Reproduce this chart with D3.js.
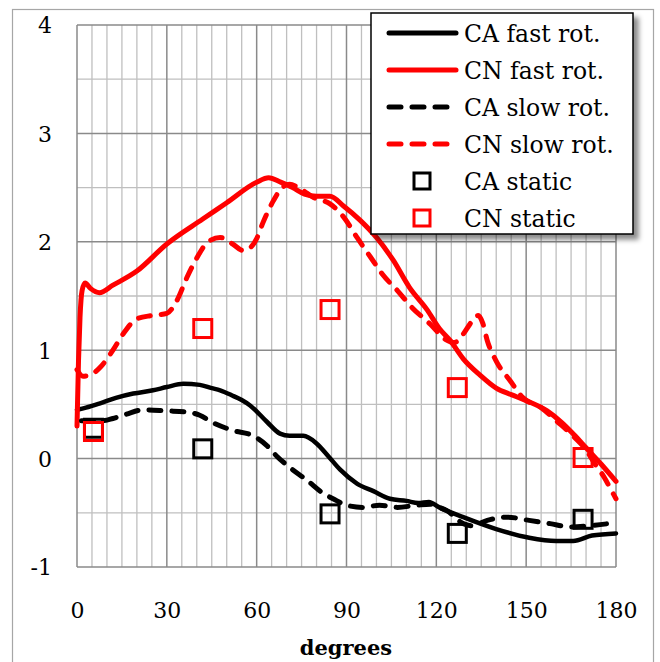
<!DOCTYPE html>
<html>
<head>
<meta charset="utf-8">
<script src="https://cdn.jsdelivr.net/npm/d3@7"></script>
<style>
  html, body { margin: 0; padding: 0; background: #fff; }
  svg { display: block; }
  text { font-family: "DejaVu Serif", serif; fill: #000; }
</style>
</head>
<body>
<svg id="chart" width="660" height="662"></svg>
<script>
// Force coefficients versus rotation angle (degrees)
const caFastDeg = [0, 3, 7.7, 13, 18.8, 25.4, 30, 35.5, 41, 45, 47.8, 52, 55, 57.8, 63.4, 67.8, 71, 75.6, 80, 84, 87.8, 93.5, 99, 104.5, 110, 114, 117.5, 121, 129, 140, 151, 160, 165.7, 172, 180];
const caFast    = [0.45, 0.47, 0.51, 0.56, 0.60, 0.63, 0.66, 0.69, 0.68, 0.65, 0.63, 0.58, 0.54, 0.49, 0.34, 0.23, 0.21, 0.21, 0.14, 0.02, -0.10, -0.23, -0.30, -0.37, -0.39, -0.41, -0.40, -0.45, -0.54, -0.65, -0.73, -0.76, -0.76, -0.71, -0.69];

const cnFastDeg = [0, 0.5, 1, 1.7, 2.7, 4.5, 7.5, 12, 20, 30, 42, 50, 60, 64, 68, 72, 76, 80, 84.5, 89, 94.5, 100, 105.6, 111, 117, 121, 124.6, 129, 134.6, 140, 145, 150, 157, 162, 166, 170, 175, 180];
const cnFast    = [0.30, 0.90, 1.30, 1.55, 1.62, 1.57, 1.53, 1.60, 1.73, 1.98, 2.21, 2.36, 2.55, 2.59, 2.55, 2.50, 2.44, 2.42, 2.42, 2.33, 2.20, 2.04, 1.83, 1.58, 1.37, 1.20, 1.09, 0.92, 0.77, 0.65, 0.59, 0.535, 0.44, 0.33, 0.22, 0.10, -0.05, -0.21];

const caSlowDeg = [1.5, 8.8, 12, 16.5, 22, 30, 36.7, 41, 45.5, 52, 58.8, 63.4, 66.8, 71, 76.8, 82.2, 85.5, 90, 95.5, 101, 107, 113.5, 118, 120, 123.5, 129, 132, 137, 143.6, 151, 158, 164.7, 171, 180];
const caSlow    = [0.35, 0.35, 0.37, 0.41, 0.45, 0.44, 0.43, 0.40, 0.33, 0.26, 0.21, 0.12, 0.02, -0.08, -0.20, -0.32, -0.37, -0.43, -0.45, -0.43, -0.45, -0.43, -0.42, -0.44, -0.48, -0.60, -0.62, -0.57, -0.54, -0.57, -0.60, -0.63, -0.62, -0.59];

const cnSlowDeg = [0, 2, 5, 8, 12, 15.4, 20, 25, 30, 33.4, 36.7, 40, 43.4, 47.8, 52, 55.4, 58, 60, 62, 65.6, 68.5, 71, 74.5, 78.9, 84.5, 89, 93.5, 98, 102, 107, 112, 118, 123, 126, 129, 132, 134, 135.5, 137, 140, 144.6, 149, 155, 160, 166, 170, 173, 176, 178, 180];
const cnSlow    = [0.82, 0.76, 0.78, 0.85, 1.00, 1.15, 1.29, 1.32, 1.34, 1.46, 1.67, 1.85, 1.99, 2.04, 1.98, 1.92, 1.95, 2.03, 2.17, 2.38, 2.50, 2.53, 2.49, 2.41, 2.35, 2.23, 2.04, 1.86, 1.70, 1.55, 1.39, 1.24, 1.10, 1.07, 1.15, 1.27, 1.32, 1.25, 1.09, 0.90, 0.72, 0.56, 0.47, 0.35, 0.20, 0.08, -0.05, -0.17, -0.27, -0.37];

const staticDeg = [5.5, 42, 84.5, 127, 169];
const caStatic  = [0.28, 0.09, -0.51, -0.69, -0.56];
const cnStatic  = [0.25, 1.20, 1.375, 0.655, 0.01];

const xTicks = [0, 30, 60, 90, 120, 150, 180];
const yTicks = [-1, 0, 1, 2, 3, 4];
const xLabel = "degrees";

const legendItems = [
  { label: "CA fast rot.", kind: "line", color: "#000", dash: null },
  { label: "CN fast rot.", kind: "line", color: "#ff0000", dash: null },
  { label: "CA slow rot.", kind: "line", color: "#000", dash: "12,11" },
  { label: "CN slow rot.", kind: "line", color: "#ff0000", dash: "12,11" },
  { label: "CA static", kind: "square", color: "#000" },
  { label: "CN static", kind: "square", color: "#ff0000" }
];

const svg = d3.select("#chart");
const plot = { left: 77, top: 25, right: 616, bottom: 567 };

const x = d3.scaleLinear().domain([0, 180]).range([plot.left, plot.right]);
const y = d3.scaleLinear().domain([-1, 4]).range([plot.bottom, plot.top]);

// plain hyphen for negative tick labels
const intFmt = d => String(d);

// outer frame
svg.append("rect")
  .attr("x", 12.5).attr("y", 9.5).attr("width", 641).attr("height", 670)
  .attr("fill", "none").attr("stroke", "#a6a6a6").attr("stroke-width", 1.2);

// grid: minor first, then major
const grid = svg.append("g");
const minorX = d3.range(0, 181, 5).filter(d => d % 30 !== 0);
const minorY = d3.range(-1, 4.01, 0.5).filter(d => Math.abs(d - Math.round(d)) > 1e-6);
grid.selectAll(".mx").data(minorX).join("line")
  .attr("x1", d => x(d)).attr("x2", d => x(d))
  .attr("y1", plot.top).attr("y2", plot.bottom)
  .attr("stroke", "#bfbfbf").attr("stroke-width", 1.3);
grid.selectAll(".my").data(minorY).join("line")
  .attr("y1", d => y(d)).attr("y2", d => y(d))
  .attr("x1", plot.left).attr("x2", plot.right)
  .attr("stroke", "#bfbfbf").attr("stroke-width", 1.3);
grid.selectAll(".Mx").data(xTicks).join("line")
  .attr("x1", d => x(d)).attr("x2", d => x(d))
  .attr("y1", plot.top).attr("y2", plot.bottom)
  .attr("stroke", "#8a8a8a").attr("stroke-width", 1.5);
grid.selectAll(".My").data(yTicks).join("line")
  .attr("y1", d => y(d)).attr("y2", d => y(d))
  .attr("x1", plot.left).attr("x2", plot.right)
  .attr("stroke", "#8a8a8a").attr("stroke-width", 1.5);

// axes (labels only)
const yAxis = d3.axisLeft(y).tickValues(yTicks).tickSize(0).tickPadding(0).tickFormat(intFmt);
svg.append("g").attr("transform", "translate(52,0)").call(yAxis)
  .call(g => g.select(".domain").remove())
  .selectAll("text").attr("font-size", 22).attr("font-family", "DejaVu Serif").attr("fill", "#000").attr("dy", "0.36em");

const xAxis = d3.axisBottom(x).tickValues(xTicks).tickSize(0).tickPadding(0).tickFormat(intFmt);
svg.append("g").attr("transform", "translate(0,602)").call(xAxis)
  .call(g => g.select(".domain").remove())
  .selectAll("text").attr("font-size", 22).attr("font-family", "DejaVu Serif").attr("fill", "#000").attr("dy", "0.71em");

svg.append("text").attr("x", 346).attr("y", 655).attr("text-anchor", "middle")
  .attr("font-size", 21).attr("font-weight", "bold").text(xLabel);

// series lines
const line = d3.line().x(d => x(d[0])).y(d => y(d[1])).curve(d3.curveMonotoneX);
const zip = (a, b) => a.map((v, i) => [v, b[i]]);
const series = [
  { pts: zip(caFastDeg, caFast), color: "#000", dash: null, w: 4.5 },
  { pts: zip(cnFastDeg, cnFast), color: "#ff0000", dash: null, w: 5 },
  { pts: zip(caSlowDeg, caSlow), color: "#000", dash: "12,11", w: 5 },
  { pts: zip(cnSlowDeg, cnSlow), color: "#ff0000", dash: "12,11", w: 5 }
];
svg.append("g").selectAll("path").data(series).join("path")
  .attr("d", d => line(d.pts))
  .attr("fill", "none")
  .attr("stroke", d => d.color)
  .attr("stroke-width", d => d.w)
  .attr("stroke-dasharray", d => d.dash)
  .attr("stroke-linecap", "round")
  .attr("stroke-linejoin", "round");

// static points
const sq = 18;
const markers = svg.append("g");
[[caStatic, "#000"], [cnStatic, "#ff0000"]].forEach(([vals, col]) => {
  markers.append("g").selectAll("rect").data(zip(staticDeg, vals)).join("rect")
    .attr("x", d => x(d[0]) - sq / 2).attr("y", d => y(d[1]) - sq / 2)
    .attr("width", sq).attr("height", sq)
    .attr("fill", "none").attr("stroke", col).attr("stroke-width", 3);
});

// legend
const defs = svg.append("defs");
const f = defs.append("filter").attr("id", "shadow").attr("x", "-10%").attr("y", "-10%").attr("width", "130%").attr("height", "130%");
f.append("feDropShadow").attr("dx", 5).attr("dy", 5).attr("stdDeviation", 2.5)
  .attr("flood-color", "#000").attr("flood-opacity", 0.45);

const lg = svg.append("g");
lg.append("rect").attr("x", 371).attr("y", 13).attr("width", 262).attr("height", 221)
  .attr("fill", "#fff").attr("stroke", "#000").attr("stroke-width", 1.5)
  .attr("filter", "url(#shadow)");
const rowY = d3.scaleLinear().domain([0, 5]).range([33, 218]);
legendItems.forEach((it, i) => {
  const cy = rowY(i);
  if (it.kind === "line") {
    lg.append("line").attr("x1", 389).attr("x2", 456).attr("y1", cy).attr("y2", cy)
      .attr("stroke", it.color).attr("stroke-width", 5)
      .attr("stroke-linecap", "round")
      .attr("stroke-dasharray", it.dash);
  } else {
    lg.append("rect").attr("x", 422 - 8).attr("y", cy - 8).attr("width", 16).attr("height", 16)
      .attr("fill", "none").attr("stroke", it.color).attr("stroke-width", 3);
  }
  lg.append("text").attr("x", 464)
    .attr("y", cy + 8.5).attr("font-size", 23.5).text(it.label);
});
</script>
</body>
</html>
